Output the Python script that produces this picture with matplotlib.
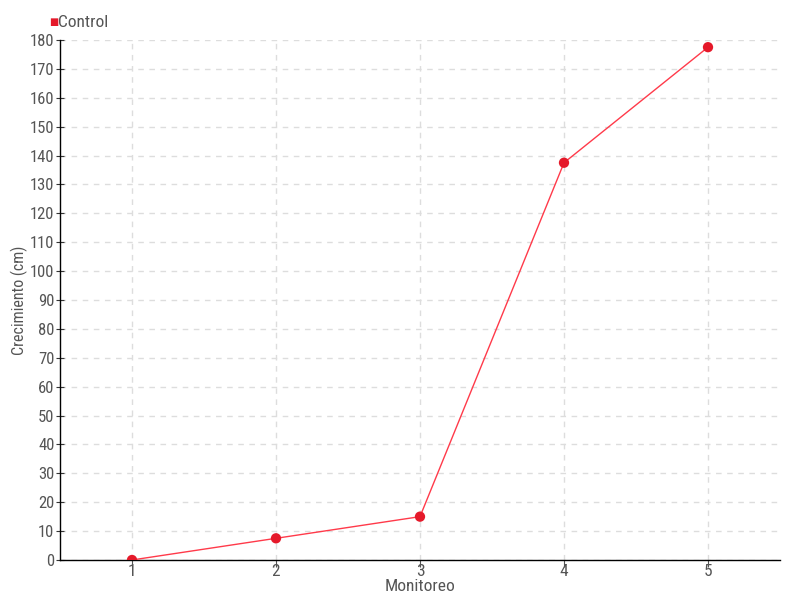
import matplotlib
matplotlib.use("Agg")
import matplotlib.pyplot as plt
from matplotlib import font_manager as fm

names = {f.name for f in fm.fontManager.ttflist}
fam = "DejaVu Sans"
for cand in ["Liberation Sans Narrow", "Roboto Condensed", "Open Sans Condensed", "DejaVu Sans Condensed", "Roboto"]:
    if cand in names:
        fam = cand
        break
plt.rcParams['font.family'] = [fam, 'DejaVu Sans']

categories = ["1", "2", "3", "4", "5"]
control = [0, 7.5, 15, 137.5, 177.5]
yticks = list(range(0, 181, 10))

fig = plt.figure(figsize=(8, 6), dpi=100)
ax = fig.add_axes([0.075, 0.0667, 0.9, 0.8667])
x = list(range(1, len(categories) + 1))
ax.plot(x, control, color="#ff3a4a", lw=1, zorder=3)
ax.scatter(x, control, s=55, color="#e5192a", zorder=4, edgecolors="none")

ax.set_xlim(0.5, 5.5)
ax.set_ylim(0, 180)
ax.set_xticks(x)
ax.set_xticklabels(categories)
ax.set_yticks(yticks)
ax.grid(True, color="#dddddd", ls=(0, (4, 4)), lw=1)
ax.set_axisbelow(True)
for s in ["top", "right"]:
    ax.spines[s].set_visible(False)
for s in ["left", "bottom"]:
    ax.spines[s].set_color("#000000")
    ax.spines[s].set_linewidth(1)
ax.tick_params(axis="y", direction="inout", length=6, color="#333333", labelcolor="#555555", labelsize=12, pad=1)
ax.tick_params(axis="x", direction="out", length=5, color="#555555", labelcolor="#555555", labelsize=12.5, pad=-2)
ax.set_xlabel("Monitoreo", color="#555555", fontsize=12.5, labelpad=0)
ax.set_ylabel("Crecimiento (cm)", color="#555555", fontsize=11.5)
ax.yaxis.set_label_coords(-0.045, 0.5)

fig.text(0.062, 0.963, "■", color="#e5192a", fontsize=7, va="center", ha="left", family="DejaVu Sans")
fig.text(0.073, 0.963, "Control", color="#555555", fontsize=12.5, va="center", ha="left")

fig.savefig("out.png", dpi=100, facecolor="white")
